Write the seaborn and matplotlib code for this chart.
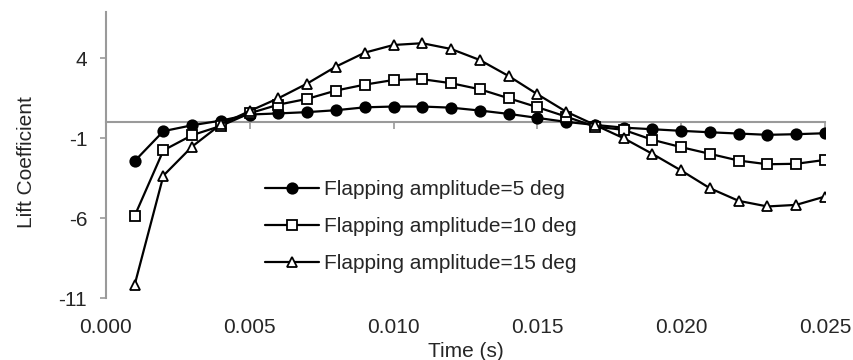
import numpy as np
import pandas as pd
import matplotlib
matplotlib.use("Agg")
import matplotlib.pyplot as plt
import seaborn as sns

sns.set_theme(style="white")
plt.rcParams['font.family'] = ['Liberation Sans', 'DejaVu Sans']

time_s = [0.001, 0.002, 0.003, 0.004, 0.005, 0.006, 0.007, 0.008, 0.009, 0.010,
          0.011, 0.012, 0.013, 0.014, 0.015, 0.016, 0.017, 0.018, 0.019, 0.020,
          0.021, 0.022, 0.023, 0.024, 0.025]
amp5 = [-2.43, -0.56, -0.19, 0.10, 0.48, 0.55, 0.63, 0.75, 0.93, 0.98,
        0.98, 0.91, 0.73, 0.52, 0.27, 0.02, -0.17, -0.34, -0.44, -0.54,
        -0.63, -0.71, -0.79, -0.75, -0.69]
amp10 = [-5.86, -1.76, -0.81, -0.23, 0.56, 1.10, 1.46, 1.98, 2.35, 2.64,
         2.69, 2.44, 2.06, 1.50, 0.94, 0.35, -0.27, -0.48, -1.10, -1.56,
         -1.98, -2.40, -2.63, -2.60, -2.36]
amp15 = [-10.17, -3.34, -1.52, -0.13, 0.70, 1.50, 2.42, 3.48, 4.35, 4.83,
         4.94, 4.58, 3.89, 2.89, 1.75, 0.66, -0.17, -1.00, -1.98, -3.02,
         -4.13, -4.92, -5.27, -5.17, -4.65]
labels = ["Flapping amplitude=5 deg", "Flapping amplitude=10 deg",
          "Flapping amplitude=15 deg"]
xticks = [0.000, 0.005, 0.010, 0.015, 0.020, 0.025]
yticks = [4, -1, -6, -11]

df = pd.DataFrame({"t": time_s * 3,
                   "cl": amp5 + amp10 + amp15,
                   "series": [labels[0]] * 25 + [labels[1]] * 25 + [labels[2]] * 25})

fig = plt.figure(figsize=(8.54, 3.6), dpi=100)
ax = fig.add_axes([0.124, 0.172, 0.842, 0.795])

gray = "#9a9a9a"
styles = [("o", "black"), ("s", "white"), ("^", "white")]
for lab, (mk, fc) in zip(labels, styles):
    sub = df[df["series"] == lab]
    sns.lineplot(data=sub, x="t", y="cl", ax=ax, color="black", lw=1.6,
                 marker=mk, markersize=7.5, markerfacecolor=fc,
                 markeredgecolor="black", markeredgewidth=1.3, label=lab,
                 zorder=3)

ax.set_xlim(0, 0.025)
ax.set_ylim(-11, 6.9)

# x axis drawn at y = 0
ax.spines['bottom'].set_position(('data', 0))
ax.spines['bottom'].set_color(gray)
ax.spines['bottom'].set_linewidth(1.5)
ax.spines['left'].set_color(gray)
ax.spines['left'].set_linewidth(1.5)
ax.spines['top'].set_visible(False)
ax.spines['right'].set_visible(False)
ax.set_xticks(xticks)
ax.tick_params(axis='x', direction='out', length=5, width=1.2, color=gray,
               labelbottom=False, bottom=True)
ax.set_yticks(yticks)
ax.set_yticklabels([str(v) for v in yticks])
ax.tick_params(axis='y', direction='out', length=4.5, width=1.2, color=gray,
               labelsize=15, left=True, pad=9)

sec = ax.secondary_xaxis('bottom')
sec.set_xticks(xticks)
sec.set_xticklabels([f"{v:.3f}" for v in xticks])
sec.spines['bottom'].set_visible(False)
sec.tick_params(axis='x', length=0, labelsize=15, pad=14)
sec.set_xlabel("Time (s)", fontsize=15, labelpad=4)

ax.set_xlabel("")
ax.set_ylabel("Lift Coefficient", fontsize=15, labelpad=16, y=0.477)

leg = ax.legend(loc='upper left', bbox_to_anchor=(0.221, 0.411), frameon=False,
                fontsize=15, handlelength=2.6, handletextpad=0.25,
                labelspacing=0.85, borderpad=0, borderaxespad=0)

fig.savefig("out.png", dpi=100)
